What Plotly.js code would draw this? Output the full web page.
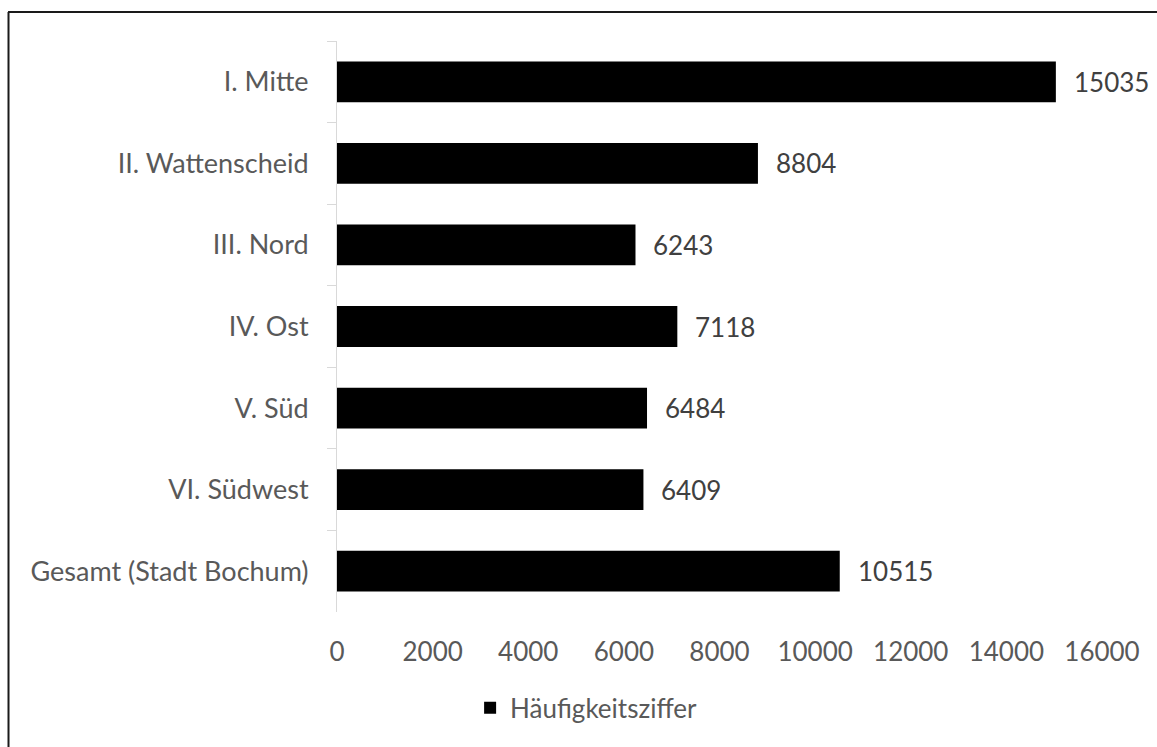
<!DOCTYPE html>
<html>
<head>
<meta charset="utf-8">
<script src="https://cdn.plot.ly/plotly-3.0.1.min.js"></script>
<style>
  html, body { margin: 0; padding: 0; background: #ffffff; }
  #chart { width: 1157px; height: 747px; }
</style>
</head>
<body>
<div id="chart"></div>
<script>
// Stadtbezirke von Bochum, von oben nach unten
const bezirke = [
  "I. Mitte",
  "II. Wattenscheid",
  "III. Nord",
  "IV. Ost",
  "V. Süd",
  "VI. Südwest",
  "Gesamt (Stadt Bochum)"
];
const haeufigkeitsziffer = [15035, 8804, 6243, 7118, 6484, 6409, 10515];
const xTicks = [0, 2000, 4000, 6000, 8000, 10000, 12000, 14000, 16000];
const seriesName = "Häufigkeitsziffer";

const FONT = "Lato, 'Open Sans', sans-serif";
const AXIS_GREY = "#595959";
const LABEL_GREY = "#404040";

const trace = {
  type: "bar",
  orientation: "h",
  name: seriesName,
  y: bezirke,
  x: haeufigkeitsziffer,
  marker: { color: "#000000", line: { width: 0 } },
  hoverinfo: "y+x"
};

// Wertbeschriftungen rechts neben den Balken
const valueLabels = bezirke.map((b, i) => ({
  x: haeufigkeitsziffer[i],
  y: b,
  xref: "x",
  yref: "y",
  text: String(haeufigkeitsziffer[i]),
  showarrow: false,
  xanchor: "left",
  yanchor: "middle",
  xshift: 16,
  font: { family: FONT, size: 26, color: LABEL_GREY }
}));

const layout = {
  width: 1157,
  height: 747,
  margin: { l: 337, r: 55, t: 41, b: 135 },
  paper_bgcolor: "#ffffff",
  plot_bgcolor: "#ffffff",
  font: { family: FONT, size: 26, color: AXIS_GREY },
  bargap: 0.5,
  showlegend: true,
  legend: {
    orientation: "h",
    x: 0.174,
    xanchor: "left",
    y: -0.168,
    yanchor: "middle",
    font: { family: FONT, size: 26, color: AXIS_GREY },
    bgcolor: "rgba(0,0,0,0)"
  },
  xaxis: {
    range: [0, 16000],
    tickvals: xTicks,
    ticktext: xTicks.map(String),
    showgrid: false,
    zeroline: false,
    showline: false,
    ticks: "",
    ticklabelstandoff: 22,
    tickfont: { family: FONT, size: 26, color: AXIS_GREY },
    fixedrange: true
  },
  yaxis: {
    type: "category",
    autorange: "reversed",
    showgrid: false,
    zeroline: false,
    showline: true,
    linecolor: "#d9d9d9",
    linewidth: 1,
    ticks: "outside",
    tickson: "boundaries",
    ticklen: 9,
    tickcolor: "#d9d9d9",
    tickwidth: 1,
    ticklabelstandoff: 22,
    tickfont: { family: FONT, size: 27, color: AXIS_GREY },
    fixedrange: true
  },
  annotations: valueLabels,
  shapes: [
    // Rahmen oben und links
    { type: "line", xref: "paper", yref: "paper",
      x0: -0.430, x1: 1.08, y0: 1.0508, y1: 1.0508,
      line: { color: "#1a1a1a", width: 2 } },
    { type: "line", xref: "paper", yref: "paper",
      x0: -0.4294, x1: -0.4294, y0: 1.0508, y1: -0.25,
      line: { color: "#1a1a1a", width: 2 } }
  ]
};

Plotly.newPlot("chart", [trace], layout, { displayModeBar: false, staticPlot: true });
</script>
</body>
</html>
